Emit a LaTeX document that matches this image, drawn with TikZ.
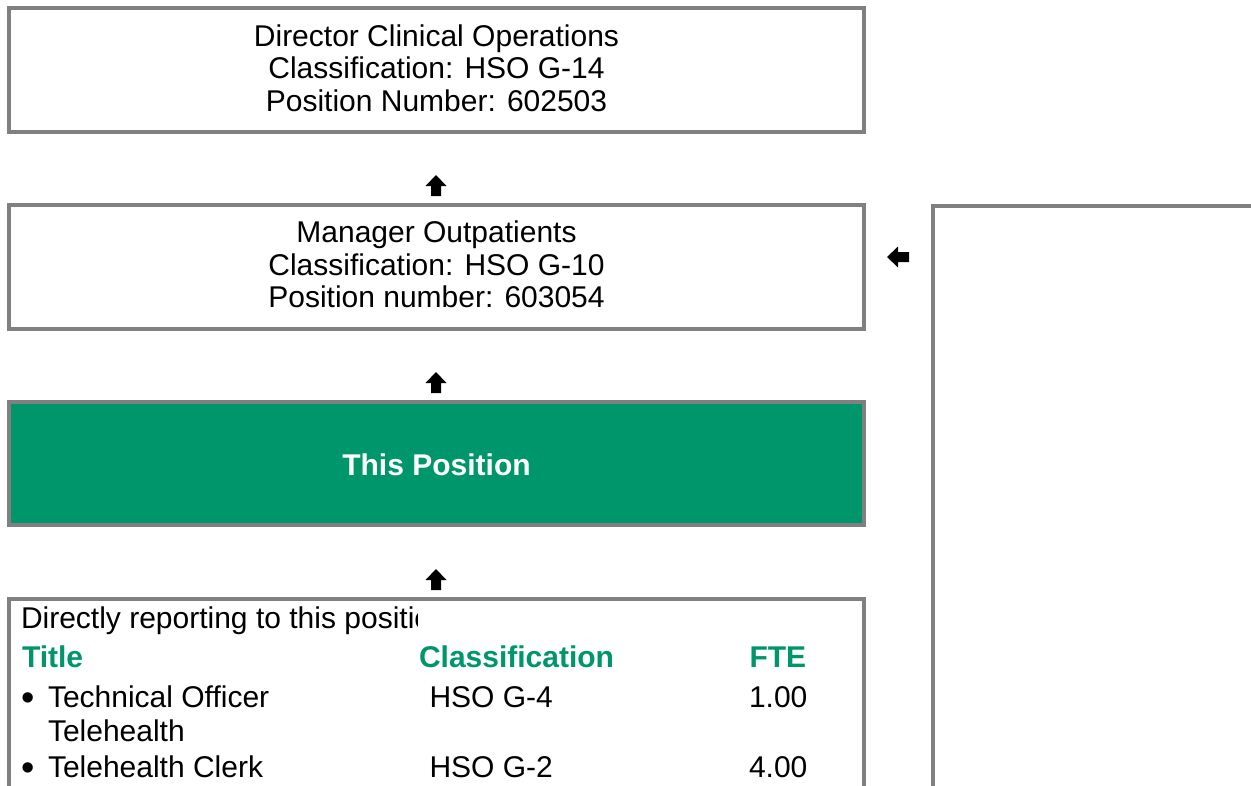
\documentclass[tikz,border=0pt]{standalone}
\usepackage{fontspec}
\setmainfont{Liberation Sans}
\definecolor{hgreen}{RGB}{0,150,108}
\definecolor{bgray}{RGB}{128,128,128}
\begin{document}
\begin{tikzpicture}[x=1pt,y=-1pt,
  box/.style={draw=bgray,line width=4pt,minimum width=855pt,minimum height=124pt,inner sep=0pt,outer sep=0pt,anchor=north west},
  txt/.style={inner sep=0pt,outer sep=0pt,anchor=base,font=\fontsize{30}{33}\selectfont},
  ltxt/.style={txt,anchor=base west},
  bul/.style={ltxt,font=\fontsize{38}{40}\selectfont},
  head/.style={ltxt,font=\fontsize{30}{33}\selectfont\bfseries,text=hgreen},
  uparr/.pic={\fill (0,-11) -- (10.5,0) -- (5,0) -- (5,10) -- (-5,10) -- (-5,0) -- (-10.5,0) -- cycle;},
  leftarr/.pic={\fill (-11,0) -- (0,-10.5) -- (0,-5) -- (11,-5) -- (11,5) -- (0,5) -- (0,10.5) -- cycle;}]
\useasboundingbox (0,0) rectangle (1251,785);
\clip (0,0) rectangle (1251,785);
% boxes
\node[box] (dir) at (9,8) {};
\node[box] (mgr) at (9,205) {};
\node[box,fill=hgreen,minimum height=123pt] (pos) at (9,402) {};
\node[box,minimum height=250pt] (rep) at (9,599) {};
\node[box,minimum width=400pt,minimum height=700pt] (side) at (933,206) {};
% arrows
\pic (a1) at (436,186) {uparr};
\pic (a2) at (436,383) {uparr};
\pic (a3) at (436,580) {uparr};
\pic (a4) at (898,257) {leftarr};
% box 1 text
\node[txt] (d1) at (436.5,46) {Director Clinical Operations};
\node[txt] (d2) at (436.5,78.5) {Classification: HSO G-14};
\node[txt] (d3) at (436.5,111) {Position Number: 602503};
% box 2 text
\node[txt] (m1) at (436.5,242) {Manager Outpatients};
\node[txt] (m2) at (436.5,275) {Classification: HSO G-10};
\node[txt] (m3) at (436.5,307.5) {Position number: 603054};
% this position
\node[txt,font=\fontsize{30}{33}\selectfont\bfseries,text=white] (tp) at (436.5,475) {This Position};
% reporting box
\begin{scope}
\clip (0,600) rectangle (417,650);
\node[ltxt] (r0) at (21,628) {Directly reporting to this position};
\end{scope}
\node[head] (h1) at (22,667) {Title};
\node[head] (h2) at (419,667) {Classification};
\node[head] (h3) at (749.5,667) {FTE};
\node[bul] (b1) at (21,710) {•};
\node[ltxt] (t1) at (48,707) {Technical Officer};
\node[ltxt] (t1b) at (48,741) {Telehealth};
\node[ltxt] (c1) at (429.5,707) {HSO G-4};
\node[ltxt] (f1) at (749,707) {1.00};
\node[bul] (b2) at (21,780) {•};
\node[ltxt] (t2) at (48,777) {Telehealth Clerk};
\node[ltxt] (c2) at (429.5,777) {HSO G-2};
\node[ltxt] (f2) at (749,777) {4.00};
\end{tikzpicture}
\end{document}
